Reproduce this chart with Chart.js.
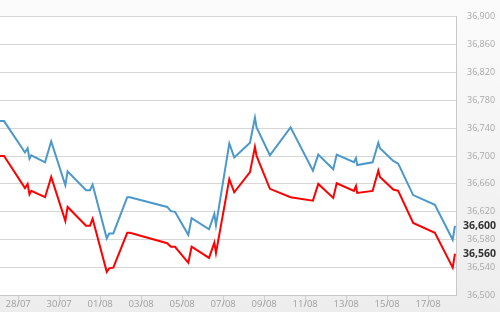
<!DOCTYPE html>
<html>
<head>
<meta charset="utf-8">
<script src="https://cdn.jsdelivr.net/npm/chart.js@4.4.0/dist/chart.umd.min.js"></script>
<style>
  html, body { margin: 0; padding: 0; background: #f3f3f3; }
</style>
</head>
<body>
<canvas id="priceChart" width="500" height="312"></canvas>
<script>
// Time in days counted from 28/07
const days = [-0.89, -0.69, 0.33, 0.46, 0.55, 0.64, 1.31, 1.61, 2.30, 2.41,
  3.31, 3.50, 3.63, 4.32, 4.44, 4.64, 5.32, 5.45, 7.27, 7.45,
  7.65, 8.30, 8.46, 9.31, 9.57, 9.65, 10.30, 10.54, 11.31, 11.55,
  11.63, 12.28, 13.29, 14.38, 14.64, 15.37, 15.54, 16.38, 16.48, 16.54,
  17.29, 17.57, 17.65, 18.30, 18.54, 19.27, 20.33, 21.20, 21.31];

// Blue series
const bluePrices = [36750, 36750, 36705, 36711, 36696, 36701, 36691, 36721, 36658, 36678,
  36651, 36651, 36659, 36582, 36589, 36589, 36641, 36641, 36627, 36621,
  36620, 36587, 36611, 36595, 36617, 36601, 36718, 36698, 36719, 36755,
  36741, 36701, 36741, 36679, 36702, 36681, 36702, 36691, 36697, 36687,
  36691, 36719, 36711, 36693, 36689, 36644, 36630, 36580, 36600];

// Red series
const redPrices = [36700, 36700, 36654, 36660, 36645, 36650, 36641, 36670, 36607, 36627,
  36600, 36600, 36610, 36534, 36539, 36540, 36590, 36590, 36575, 36570,
  36570, 36547, 36570, 36554, 36576, 36561, 36667, 36648, 36677, 36713,
  36700, 36653, 36641, 36636, 36660, 36640, 36661, 36650, 36657, 36647,
  36650, 36679, 36670, 36652, 36650, 36604, 36590, 36540, 36560];

const tickDays = [0, 2, 4, 6, 8, 10, 12, 14, 16, 18, 20];
const tickLabels = ['28/07', '30/07', '01/08', '03/08', '05/08', '07/08',
  '09/08', '11/08', '13/08', '15/08', '17/08'];

const fmt = v => v.toLocaleString('en-US');

// Gray page, white plot area
const backdrop = {
  id: 'backdrop',
  beforeDraw(chart) {
    const { ctx, chartArea: a, width, height } = chart;
    ctx.save();
    const g = ctx.createLinearGradient(0, 0, 0, height);
    g.addColorStop(0, '#fbfbfb');
    g.addColorStop(1, '#ededed');
    ctx.fillStyle = g;
    ctx.fillRect(0, 0, width, height);
    ctx.fillStyle = '#ffffff';
    ctx.fillRect(a.left, a.top, a.right - a.left, a.bottom - a.top);
    ctx.restore();
  }
};

// Current value labels on the right axis
const lastValues = {
  id: 'lastValues',
  afterDraw(chart) {
    const { ctx } = chart;
    const y = chart.scales.y;
    ctx.save();
    ctx.font = 'bold 10.5px "Open Sans"';
    ctx.fillStyle = '#333333';
    ctx.textAlign = 'left';
    ctx.textBaseline = 'middle';
    chart.data.datasets.forEach(ds => {
      const v = ds.data[ds.data.length - 1].y;
      ctx.fillText(fmt(v), 463, y.getPixelForValue(v));
    });
    ctx.restore();
  }
};

new Chart(document.getElementById('priceChart'), {
  type: 'line',
  data: {
    datasets: [{
      data: days.map((d, i) => ({ x: d, y: bluePrices[i] })),
      borderColor: '#4b98cc',
      borderWidth: 2,
      pointRadius: 0,
      tension: 0
    }, {
      data: days.map((d, i) => ({ x: d, y: redPrices[i] })),
      borderColor: '#ff0000',
      borderWidth: 2,
      pointRadius: 0,
      tension: 0
    }]
  },
  options: {
    responsive: false,
    animation: false,
    layout: { padding: { top: 7, left: 0, right: 0, bottom: 0 } },
    plugins: { legend: { display: false }, tooltip: { enabled: false } },
    scales: {
      x: {
        type: 'linear',
        min: -0.888,
        max: 21.36,
        afterBuildTicks: s => { s.ticks = tickDays.map(v => ({ value: v })); },
        afterFit: s => { s.height = 16; },
        grid: { drawOnChartArea: false, drawTicks: true, tickLength: 10, color: '#d0d0d0' },
        border: { color: '#c8c8c8' },
        ticks: {
          autoSkip: false,
          maxRotation: 0,
          padding: -7,
          color: '#a0a0a0',
          font: { family: 'Open Sans', size: 9.5 },
          callback: (v, i) => tickLabels[i]
        }
      },
      y: {
        position: 'right',
        min: 36500,
        max: 36900,
        afterFit: s => { s.width = 44; },
        grid: { color: '#d6d6d6', drawTicks: false },
        border: { color: '#c8c8c8' },
        ticks: {
          stepSize: 40,
          padding: 11,
          color: '#a8a8a8',
          font: { family: 'Open Sans', size: 9 },
          callback: v => fmt(v)
        }
      }
    }
  },
  plugins: [backdrop, lastValues]
});
</script>
</body>
</html>
